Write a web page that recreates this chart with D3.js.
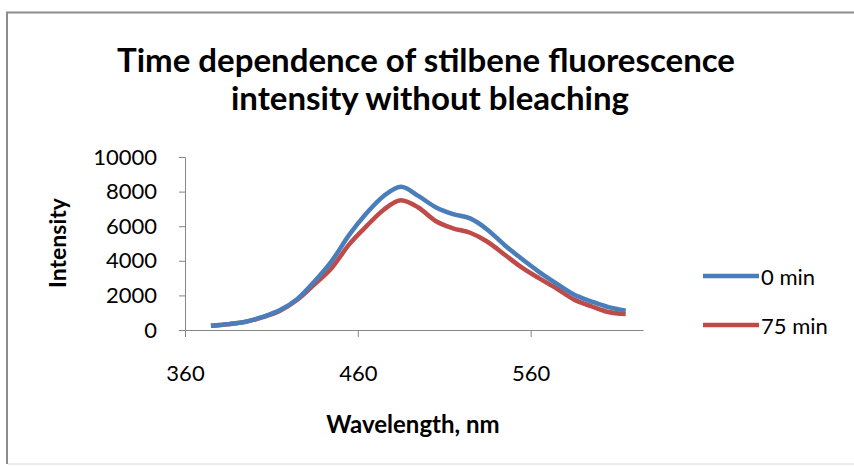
<!DOCTYPE html>
<html>
<head>
<meta charset="utf-8">
<script src="https://cdn.jsdelivr.net/npm/d3@7"></script>
<style>
  html, body { margin: 0; padding: 0; background: #fff; }
  svg { display: block; }
  text { font-family: Lato, "Open Sans", sans-serif; fill: #000; }
</style>
</head>
<body>
<svg id="chart" width="854" height="466"></svg>
<script>
// Emission spectra of stilbene, 10 nm steps
const wavelengths = [375, 385, 395, 405, 415, 425, 435, 445, 455, 465, 475, 485, 495,
                     505, 515, 525, 535, 545, 555, 565, 575, 585, 595, 605, 615];
const intensity0min = [250, 340, 480, 760, 1150, 1800, 2820, 4000, 5500, 6750, 7750, 8280, 7750,
                       7100, 6700, 6450, 5800, 4900, 4100, 3350, 2680, 2050, 1660, 1320, 1120];
const intensity75min = [240, 330, 470, 740, 1120, 1750, 2650, 3600, 4950, 6000, 6950, 7500, 7080,
                        6300, 5880, 5620, 5100, 4350, 3600, 2980, 2400, 1760, 1380, 1040, 920];
const seriesNames = ["0 min", "75 min"];
const seriesColors = ["#4A7EBB", "#BE4B48"];
const yTicks = [0, 2000, 4000, 6000, 8000, 10000];
const xTicks = [360, 460, 560];

const svg = d3.select("#chart");

// outer chart frame: strong top/left edges, faint bottom edge
svg.append("rect")
  .attr("x", 0).attr("y", 0).attr("width", 854).attr("height", 466).attr("fill", "#fff");
svg.append("path")
  .attr("d", "M7,464 V12.5 H854")
  .attr("fill", "none").attr("stroke", "#8c8c8c").attr("stroke-width", 2);
svg.append("line")
  .attr("x1", 8).attr("x2", 854).attr("y1", 464).attr("y2", 464)
  .attr("stroke", "#e4e4e4").attr("stroke-width", 1.5);

// title
const title = svg.append("text")
  .attr("text-anchor", "middle")
  .attr("font-weight", "bold")
  .attr("font-size", 33);
title.append("tspan").attr("x", 426).attr("y", 72).text("Time dependence of stilbene fluorescence");
title.append("tspan").attr("x", 430).attr("y", 110).text("intensity without bleaching");

const x = d3.scaleLinear().domain([360, 625]).range([185, 643]);
const y = d3.scaleLinear().domain([0, 10000]).range([330, 157]);

// y axis
const yAxis = svg.append("g")
  .attr("transform", "translate(185,0)")
  .call(d3.axisLeft(y).tickValues(yTicks).tickSize(6).tickPadding(22).tickFormat(d3.format("d")));
yAxis.select(".domain").attr("stroke", "#868686");
yAxis.selectAll(".tick line").attr("stroke", "#868686");
yAxis.selectAll(".tick text")
  .attr("font-family", "Lato, sans-serif").attr("font-size", 22).attr("fill", "#111");

// x axis
const xAxis = svg.append("g")
  .attr("transform", "translate(0,330)")
  .call(d3.axisBottom(x).tickValues(xTicks).tickSize(7).tickSizeOuter(0).tickFormat(d3.format("d")));
xAxis.select(".domain").attr("stroke", "#868686");
xAxis.selectAll(".tick line").attr("stroke", "#868686");
xAxis.selectAll(".tick text")
  .attr("y", 51).attr("dy", 0)
  .attr("font-family", "Lato, sans-serif").attr("font-size", 22).attr("fill", "#111");

// axis titles
svg.append("text")
  .attr("transform", "translate(66,243) rotate(-90)")
  .attr("text-anchor", "middle")
  .attr("font-weight", "bold").attr("font-size", 23)
  .text("Intensity");
svg.append("text")
  .attr("x", 413).attr("y", 433)
  .attr("text-anchor", "middle")
  .attr("font-weight", "bold").attr("font-size", 24)
  .text("Wavelength, nm");

// spectra
const line = d3.line()
  .x(d => x(d[0]))
  .y(d => y(d[1]))
  .curve(d3.curveMonotoneX);

const series = [intensity0min, intensity75min];
// draw the later series first so the 0 min curve sits on top where they overlap
[1, 0].forEach(i => {
  svg.append("path")
    .datum(wavelengths.map((w, k) => [w, series[i][k]]))
    .attr("fill", "none")
    .attr("stroke", seriesColors[i])
    .attr("stroke-width", 4.5)
    .attr("stroke-linejoin", "round")
    .attr("stroke-linecap", "butt")
    .attr("d", line);
});

// legend
const legendY = [276, 325];
seriesNames.forEach((name, i) => {
  svg.append("line")
    .attr("x1", 703).attr("x2", 759)
    .attr("y1", legendY[i]).attr("y2", legendY[i])
    .attr("stroke", seriesColors[i]).attr("stroke-width", 4.5);
  svg.append("text")
    .attr("x", 761).attr("y", legendY[i] + 8.5)
    .attr("font-size", 22)
    .text(name);
});
</script>
</body>
</html>
